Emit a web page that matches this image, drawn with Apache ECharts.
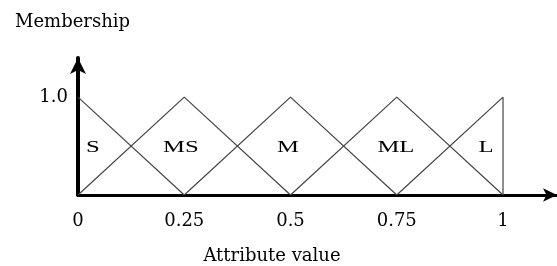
<!DOCTYPE html>
<html>
<head>
<meta charset="utf-8">
<script src="https://cdn.jsdelivr.net/npm/echarts@6/dist/echarts.min.js"></script>
<style>
  html, body { margin: 0; padding: 0; background: #fff; }
  #chart { width: 557px; height: 266px; }
</style>
</head>
<body>
<div id="chart"></div>
<script>
// membership functions (x = attribute value, y = membership)
var setNames = ['S', 'MS', 'M', 'ML', 'L'];
var setS  = [[0, 1], [0.25, 0]];
var setMS = [[0, 0], [0.25, 1], [0.5, 0]];
var setM  = [[0.25, 0], [0.5, 1], [0.75, 0]];
var setML = [[0.5, 0], [0.75, 1], [1, 0]];
var setL  = [[0.75, 0], [1, 1], [1, 0]];
// where the set names sit inside the triangles
var labelPos = [[0.035, 0.48], [0.242, 0.48], [0.494, 0.48], [0.748, 0.48], [0.96, 0.48]];
var xTickLabels = ['0', '0.25', '0.5', '0.75', '1'];
var yTickLabel = '1.0';

var serif = '"DejaVu Serif", serif';
var myChart = echarts.init(document.getElementById('chart'));

function tri(data) {
  return {
    type: 'line',
    data: data,
    symbol: 'none',
    silent: true,
    lineStyle: { color: '#444', width: 1.2 },
    z: 1
  };
}

var option = {
  animation: false,
  title: [
    {
      text: 'Membership',
      left: 10, top: 8,
      textStyle: { fontFamily: serif, fontSize: 18, fontWeight: 'normal', color: '#000' }
    },
    {
      text: 'Attribute value',
      left: 267, top: 242, textAlign: 'center',
      textStyle: { fontFamily: serif, fontSize: 18, fontWeight: 'normal', color: '#000' }
    }
  ],
  grid: { left: 78, right: 0, top: 58, bottom: 71 },
  xAxis: {
    type: 'value',
    min: 0, max: 1.127, interval: 0.25,
    splitLine: { show: false },
    axisTick: { show: false },
    axisLine: {
      show: true, onZero: false,
      symbol: ['none', 'arrow'], symbolSize: [10, 14],
      lineStyle: { color: '#000', width: 3 }
    },
    axisLabel: {
      margin: 17,
      showMaxLabel: false,
      fontFamily: serif, fontSize: 18, color: '#000',
      formatter: function (v) {
        var i = Math.round(v / 0.25);
        return Math.abs(v - i * 0.25) < 1e-6 && xTickLabels[i] !== undefined ? xTickLabels[i] : '';
      }
    }
  },
  yAxis: {
    type: 'value',
    min: 0, max: 1.4, interval: 1,
    splitLine: { show: false },
    axisTick: { show: false },
    axisLine: {
      show: true, onZero: false,
      symbol: ['none', 'arrow'], symbolSize: [12, 16],
      lineStyle: { color: '#000', width: 4 }
    },
    axisLabel: {
      margin: 10,
      showMaxLabel: false,
      fontFamily: serif, fontSize: 18, color: '#000',
      formatter: function (v) { return v === 1 ? yTickLabel : ''; }
    }
  },
  series: [
    tri(setS), tri(setMS), tri(setM), tri(setML), tri(setL),
    {
      type: 'custom',
      silent: true,
      data: labelPos,
      renderItem: function (params, api) {
        var p = api.coord([api.value(0), api.value(1)]);
        return {
          type: 'text',
          x: p[0], y: p[1],
          scaleX: 1.45,
          style: {
            text: setNames[params.dataIndex],
            fontFamily: '"Liberation Serif", serif',
            fontSize: 17,
            fill: '#000',
            align: 'center',
            verticalAlign: 'middle'
          }
        };
      },
      z: 3
    }
  ]
};

myChart.setOption(option);
</script>
</body>
</html>
